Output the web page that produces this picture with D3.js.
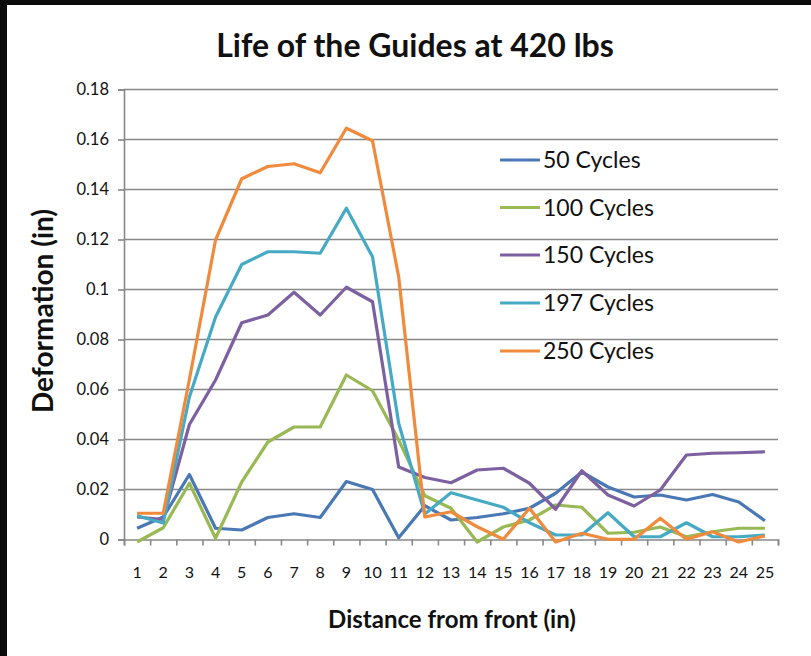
<!DOCTYPE html>
<html>
<head>
<meta charset="utf-8">
<script src="https://cdn.jsdelivr.net/npm/d3@7"></script>
<style>
  body { margin: 0; background: #0b0b0b; }
  svg { display: block; }
  text { font-family: Lato, "Open Sans", sans-serif; fill: #111; }
</style>
</head>
<body>
<div id="chart"></div>
<script>
// Data
const distances = d3.range(1, 26);
const seriesNames = ["50 Cycles", "100 Cycles", "150 Cycles", "197 Cycles", "250 Cycles"];
const colors = ["#4a78b4", "#98b954", "#7d60a0", "#46aac5", "#f08a3c"];

const cycles50 = [0.0045, 0.009, 0.026, 0.0045, 0.0038, 0.0088, 0.0103, 0.0088, 0.0232, 0.02, 0.0007, 0.0135,
  0.0078, 0.0088, 0.0103, 0.0125, 0.0185, 0.027, 0.021, 0.017, 0.0178, 0.0158, 0.018, 0.015, 0.0075];
const cycles100 = [-0.001, 0.0047, 0.0225, 0.0005, 0.023, 0.039, 0.045, 0.045, 0.0658, 0.0595, 0.0398, 0.0175,
  0.0125, -0.001, 0.005, 0.0078, 0.0138, 0.0129, 0.0025, 0.0029, 0.005, 0.0011, 0.0031, 0.0045, 0.0045];
const cycles150 = [0.009, 0.008, 0.046, 0.0638, 0.0867, 0.0898, 0.0989, 0.0898, 0.1009, 0.0951, 0.029, 0.0248,
  0.0227, 0.0278, 0.0285, 0.0225, 0.0121, 0.0275, 0.0178, 0.0134, 0.0198, 0.0338, 0.0345, 0.0347, 0.0351];
const cycles197 = [0.0095, 0.0066, 0.057, 0.089, 0.11, 0.1151, 0.1151, 0.1145, 0.1325, 0.1131, 0.0465, 0.0102,
  0.0187, 0.0158, 0.0129, 0.0067, 0.0018, 0.0018, 0.0107, 0.0011, 0.0011, 0.0067, 0.0011, 0.0011, 0.0018];
const cycles250 = [0.0105, 0.0105, 0.064, 0.1198, 0.1443, 0.1492, 0.1503, 0.1467, 0.1645, 0.1595, 0.1051, 0.009,
  0.0111, 0.0051, 0.0001, 0.0125, -0.001, 0.0025, 0.0001, 0.0001, 0.0085, 0.0001, 0.0031, -0.001, 0.0014];
const yTicks = [0, 0.02, 0.04, 0.06, 0.08, 0.1, 0.12, 0.14, 0.16, 0.18];

const series = [cycles50, cycles100, cycles150, cycles197, cycles250];

const W = 811, H = 656;
const plotLeft = 124, plotRight = 778, plotTop = 89.5, plotBottom = 539.5;

const svg = d3.select("#chart").append("svg")
  .attr("width", W)
  .attr("height", H);

// dark frame + white chart area
svg.append("rect").attr("width", W).attr("height", H).attr("fill", "#0b0b0b");
svg.append("rect").attr("x", 7).attr("y", 5).attr("width", W - 7).attr("height", H - 5).attr("fill", "#fff");

const x = d3.scaleBand().domain(distances).range([plotLeft, plotRight]);
const xEdge = d3.scaleLinear().domain([0, distances.length]).range([plotLeft, plotRight]);
const y = d3.scaleLinear().domain([0, 0.18]).range([plotBottom, plotTop]);

// gridlines
svg.append("g")
  .selectAll("line")
  .data(yTicks.filter(d => d > 0))
  .enter()
  .append("line")
  .attr("x1", plotLeft)
  .attr("x2", plotRight)
  .attr("y1", d => y(d))
  .attr("y2", d => y(d))
  .attr("stroke", "#888")
  .attr("stroke-width", 1.6);

// y axis
const yAxis = svg.append("g")
  .attr("transform", `translate(${plotLeft},0)`)
  .call(d3.axisLeft(y).tickValues(yTicks).tickSize(6).tickPadding(9)
    .tickFormat(d => String(+d.toFixed(2))));
yAxis.selectAll("line, path").attr("stroke", "#888").attr("stroke-width", 1.6);
yAxis.selectAll("text").attr("font-size", 16.5).attr("fill", "#111");

// x axis: tick marks between categories
const xTicks = svg.append("g")
  .attr("transform", `translate(0,${plotBottom})`)
  .call(d3.axisBottom(xEdge).ticks(25).tickSize(6).tickFormat(""));
xTicks.selectAll("line, path").attr("stroke", "#888").attr("stroke-width", 1.6);

const xLabels = svg.append("g")
  .attr("transform", `translate(0,${plotBottom})`)
  .call(d3.axisBottom(x).tickSize(0).tickPadding(27));
xLabels.select(".domain").remove();
xLabels.selectAll("text").attr("font-size", 16).attr("fill", "#111");

// lines
const line = d3.line()
  .x((d, i) => x(distances[i]) + x.bandwidth() / 2)
  .y(d => y(d));

svg.append("g")
  .selectAll("path")
  .data(series)
  .enter()
  .append("path")
  .attr("d", d => line(d))
  .attr("fill", "none")
  .attr("stroke", (d, i) => colors[i])
  .attr("stroke-width", 3.2)
  .attr("stroke-linejoin", "round");

// legend
const legendY = [160, 207.5, 255, 303, 351];
const legend = svg.append("g")
  .selectAll("g")
  .data(seriesNames)
  .enter()
  .append("g")
  .attr("transform", (d, i) => `translate(500,${legendY[i]})`);
legend.append("line")
  .attr("x1", 0).attr("x2", 40)
  .attr("stroke", (d, i) => colors[i])
  .attr("stroke-width", 3.2);
legend.append("text")
  .attr("x", 43)
  .attr("dy", "0.36em")
  .attr("font-size", 23)
  .text(d => d);

// titles
svg.append("text")
  .attr("x", 415).attr("y", 57)
  .attr("text-anchor", "middle")
  .attr("font-size", 32)
  .attr("font-weight", "bold")
  .text("Life of the Guides at 420 lbs");

svg.append("text")
  .attr("x", 452).attr("y", 628)
  .attr("text-anchor", "middle")
  .attr("font-size", 24)
  .attr("font-weight", "bold")
  .text("Distance from front (in)");

svg.append("text")
  .attr("transform", "translate(53,311) rotate(-90)")
  .attr("text-anchor", "middle")
  .attr("font-size", 28)
  .attr("font-weight", "bold")
  .text("Deformation (in)");
</script>
</body>
</html>
